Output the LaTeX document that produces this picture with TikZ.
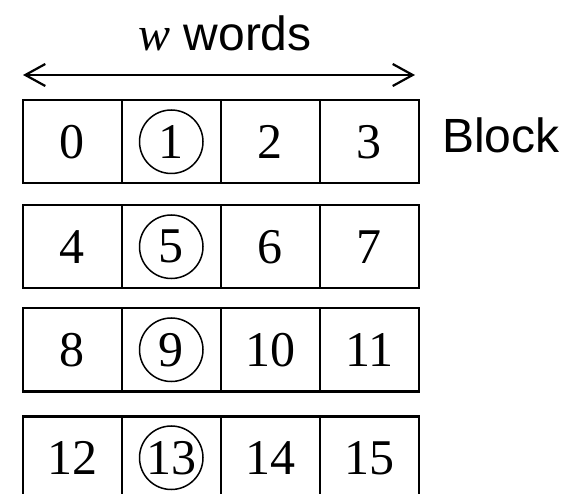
\documentclass[tikz,border=0pt]{standalone}
\usepackage{fontspec}
\setmainfont{Liberation Serif}
\newfontfamily\arialf{Liberation Sans}
\usetikzlibrary{arrows.meta}
\begin{document}
\begin{tikzpicture}[x=1pt,y=-1pt,
  cell/.style={draw, line width=2.5pt, minimum width=99pt, minimum height=83pt,
    inner sep=0pt, anchor=north west, font=\fontsize{50}{50}\selectfont},
  ring/.style={draw, circle, line width=1.5pt, minimum size=63.5pt, inner sep=0pt,
    font=\fontsize{50}{50}\selectfont},
  lbl/.style={font=\arialf\fontsize{48}{48}\selectfont, inner sep=0pt},
  span/.style={line width=2.2pt, {Straight Barb[length=20pt,width=22pt]}-{Straight Barb[length=20pt,width=22pt]}}]
\useasboundingbox (0,0) rectangle (565,494);
\clip (0,0) rectangle (565,494);
\node[lbl, anchor=base] (ww) at (225,51) {{\rmfamily\itshape w} words};
\coordinate (la) at (23,75);
\coordinate (ra) at (415,75);
\draw[span] (la) -- (ra);
\foreach \r/\yy in {0/99,1/204,2/307,3/415} {
  \foreach \c in {0,...,3} {
    \pgfmathtruncatemacro\n{4*\r+\c}
    \ifnum\c=1
      \node[cell] (c\n) at ({21.5+99*\c},\yy) {};
      \node[ring] (k\n) at (c\n.center) {\n};
    \else
      \node[cell] (c\n) at ({21.5+99*\c},\yy) {\n};
    \fi
  }
}
\node[lbl, anchor=base west] (blk) at (442,153) {Block};
\end{tikzpicture}
\end{document}
